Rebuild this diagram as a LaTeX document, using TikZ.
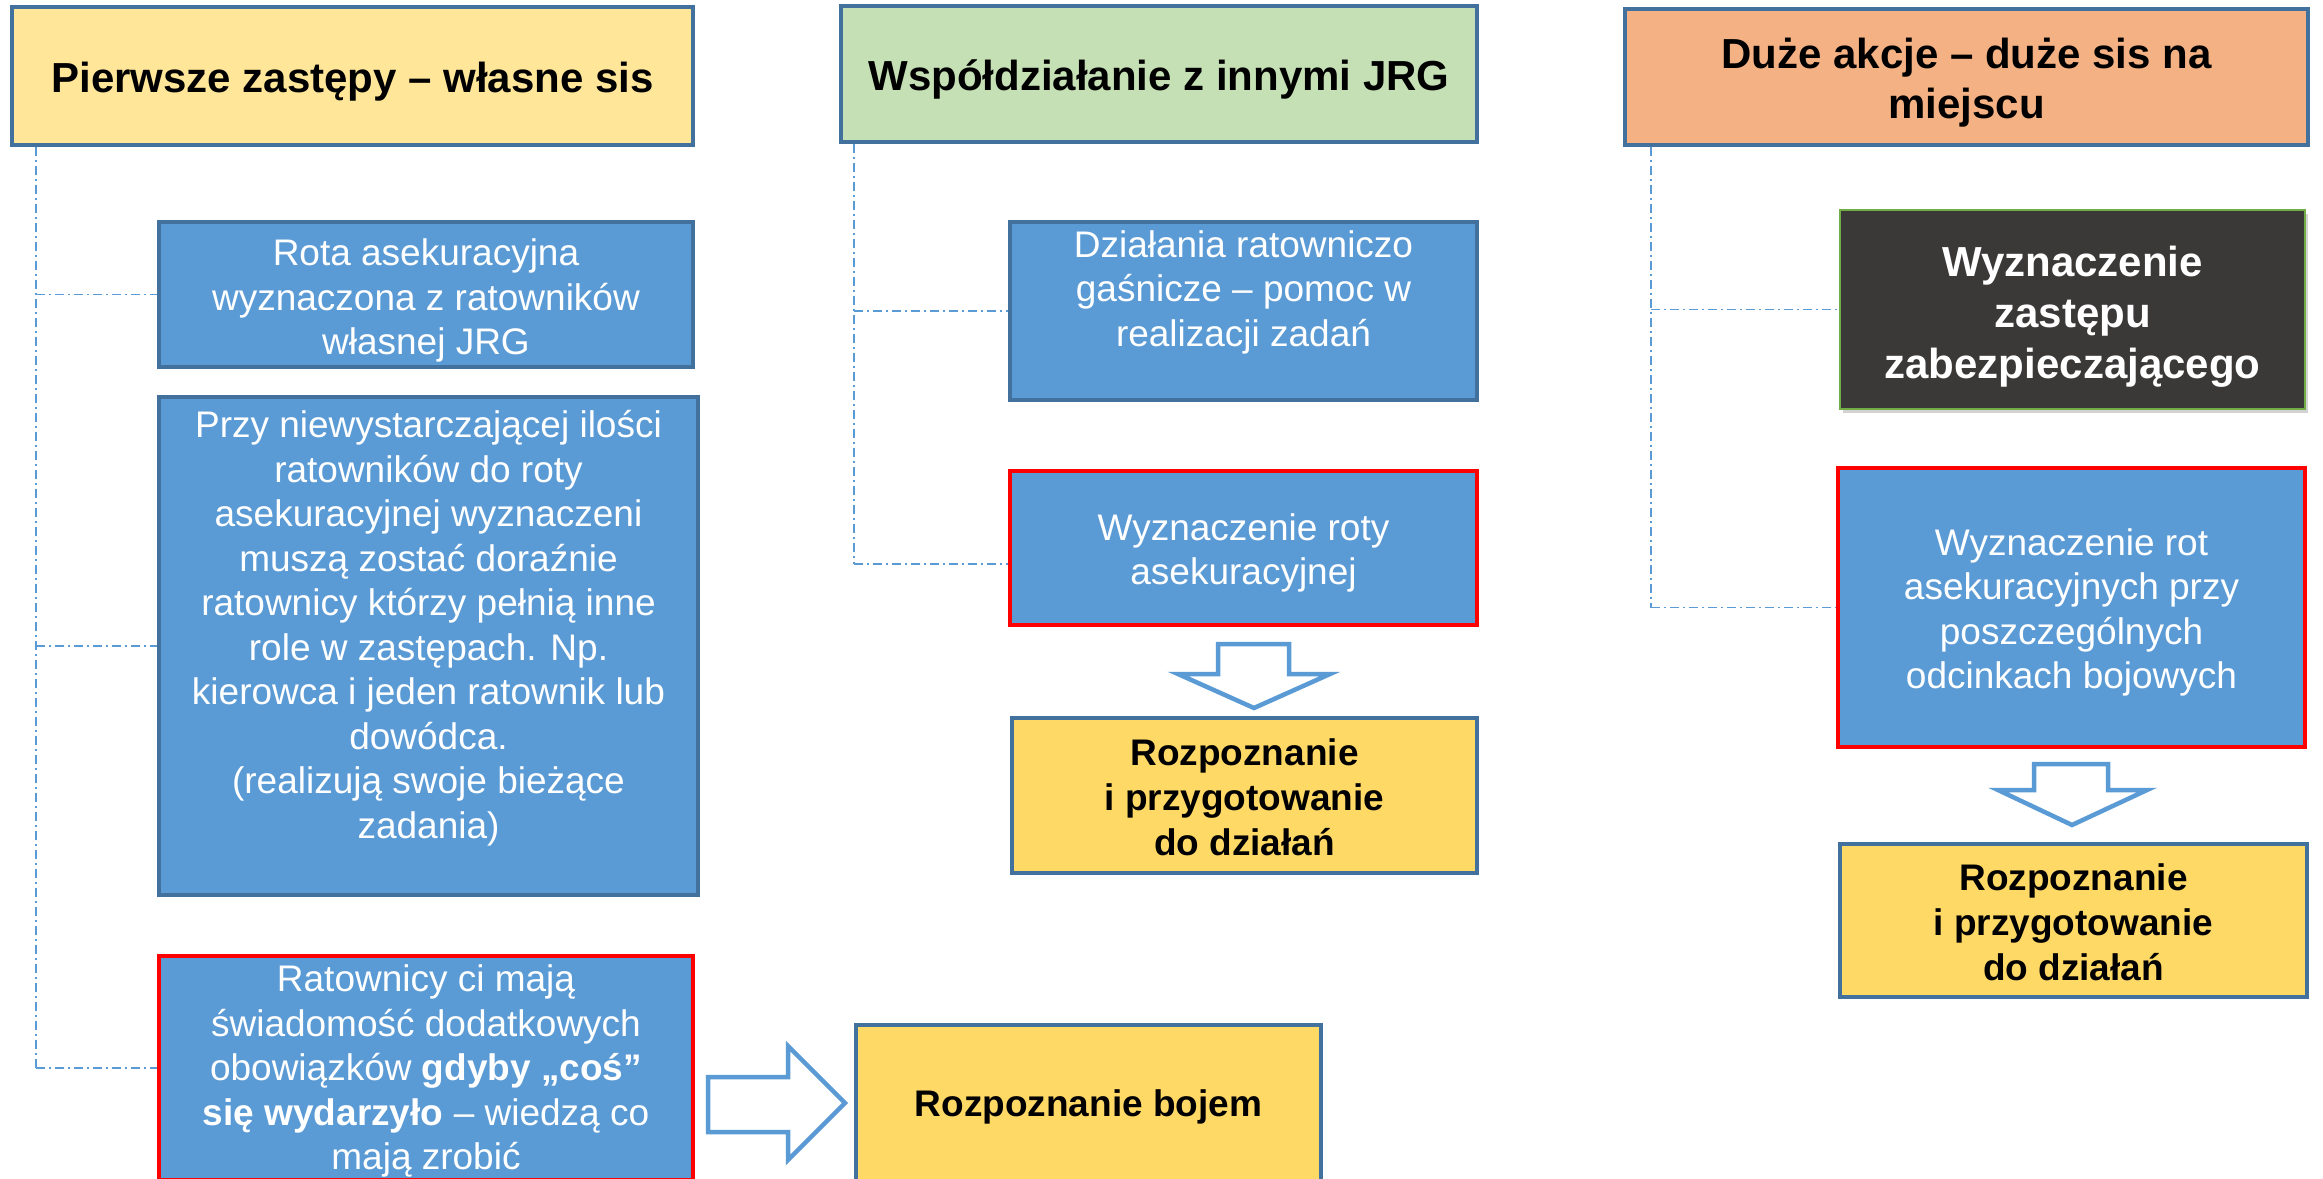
\documentclass[tikz,border=0pt]{standalone}
\usepackage{fontspec}
\setmainfont{Liberation Sans}
\usetikzlibrary{shadows,calc}
\definecolor{bfill}{HTML}{5B9BD5}
\definecolor{bdr}{HTML}{41719C}
\definecolor{rd}{HTML}{FF0000}
\definecolor{yl}{HTML}{FFD966}
\definecolor{hA}{HTML}{FFE699}
\definecolor{hB}{HTML}{C5E0B4}
\definecolor{hC}{HTML}{F4B183}
\definecolor{dk}{HTML}{3B3838}
\definecolor{gr}{HTML}{70AD47}
\tikzset{
  base/.style={inner sep=0pt, line width=4pt},
  hdr/.style={base, draw=bdr},
  bbox/.style={base, fill=bfill, draw=bdr},
  redbox/.style={bbox, draw=rd},
  ybox/.style={base, fill=yl, draw=bdr},
  htxt/.style={inner sep=0pt, align=center, font=\bfseries\fontsize{42}{50}\selectfont},
  wtxt/.style={inner sep=0pt, align=center, text=white, font=\fontsize{37}{44.5}\selectfont},
  ytxt/.style={inner sep=0pt, align=center, font=\bfseries\fontsize{37}{45}\selectfont},
  conn/.style={draw=bfill, line width=1.8pt, dash pattern=on 9pt off 4pt on 2pt off 4pt},
  barrow/.style={draw=bfill, fill=white, line width=4.5pt, line join=miter},
}
\begin{document}
\begin{tikzpicture}[x=1pt,y=-1pt]
\useasboundingbox (0,0) rectangle (2323,1178);
\clip (0,0) rectangle (2323,1178);
\fill[white] (0,0) rectangle (2323,1178);

% headers
\node[hdr, fill=hA, minimum width=681, minimum height=138] (h1) at (352.5,76) {};
\node[htxt] (h1t) at ($(h1.center)+(0,6)$) {Pierwsze zastępy – własne sis};
\node[hdr, fill=hB, minimum width=636, minimum height=136] (h2) at (1159,74) {};
\node[htxt] (h2t) at ($(h2.center)+(0,5)$) {Współdziałanie z innymi JRG};
\node[hdr, fill=hC, minimum width=683, minimum height=136] (h3) at (1966.5,77) {};
\node[htxt] (h3t) at ($(h3.center)+(0,6)$) {Duże akcje – duże sis na\\miejscu};

% left column
\node[bbox, minimum width=534, minimum height=145] (rota) at (426,294.5) {};
\node[wtxt] (rotat) at ($(rota.center)+(0,6)$) {Rota asekuracyjna\\wyznaczona z ratowników\\własnej JRG};
\node[bbox, minimum width=539, minimum height=498] (przy) at (428.5,646) {};
\node[wtxt] (przyt) at (428.5,628) {Przy niewystarczającej ilości\\ratowników do roty\\asekuracyjnej wyznaczeni\\muszą zostać doraźnie\\ratownicy którzy pełnią inne\\role w zastępach. Np.\\kierowca i jeden ratownik lub\\dowódca.\\(realizują swoje bieżące\\zadania)};
\node[redbox, minimum width=534, minimum height=224] (rat) at (426,1068) {};
\node[wtxt] (ratt) at ($(rat.center)+(0,3)$) {Ratownicy ci mają\\świadomość dodatkowych\\obowiązków \textbf{gdyby „coś”}\\\textbf{się wydarzyło} – wiedzą co\\mają zrobić};
\node[ybox, minimum width=465, minimum height=158] (boj) at (1088.5,1104) {};
\node[ytxt] (bojt) at ($(boj.center)+(0,3)$) {Rozpoznanie bojem};

% middle column
\node[bbox, minimum width=467, minimum height=178] (dz) at (1243.5,311) {};
\node[wtxt] (dzt) at (1243.5,292) {Działania ratowniczo\\gaśnicze – pomoc w\\realizacji zadań};
\node[redbox, minimum width=467, minimum height=154] (wr) at (1243.5,548) {};
\node[wtxt] (wrt) at ($(wr.center)+(0,5)$) {Wyznaczenie roty\\asekuracyjnej};
\node[ybox, minimum width=465, minimum height=155] (rz1) at (1244.5,795.5) {};
\node[ytxt] (rz1t) at ($(rz1.center)+(0,2)$) {Rozpoznanie\\i przygotowanie\\do działań};

% right column
\node[base, line width=2pt, fill=dk, draw=gr, minimum width=465, minimum height=199,
  drop shadow={shadow xshift=3pt, shadow yshift=-4pt, opacity=0.35}] (dark) at (2072.5,309.5) {};
\node[inner sep=0pt, align=center, text=white, font=\bfseries\fontsize{42}{51}\selectfont] (darkt) at ($(dark.center)+(0,7)$) {Wyznaczenie\\zastępu\\zabezpieczającego};
\node[redbox, minimum width=467, minimum height=279] (wrot) at (2071.5,607.5) {};
\node[wtxt] (wrott) at ($(wrot.center)+(0,5)$) {Wyznaczenie rot\\asekuracyjnych przy\\poszczególnych\\odcinkach bojowych};
\node[ybox, minimum width=467, minimum height=153] (rz2) at (2073.5,920.5) {};
\node[ytxt] (rz2t) at ($(rz2.center)+(0,2)$) {Rozpoznanie\\i przygotowanie\\do działań};

% connectors
\coordinate (L) at ($(h1.south west)+(26,0)$);
\draw[conn] (L) -- (L |- rat.west);
\draw[conn] (L |- rota.west) -- (rota.west);
\draw[conn] (L |- przy.west) -- (przy.west);
\draw[conn] (L |- rat.west) -- (rat.west);

\coordinate (M) at ($(h2.south west)+(15,0)$);
\coordinate (Mw) at ($(wr.south west)!0.4!(wr.north west)$);
\draw[conn] (M) -- (M |- Mw);
\draw[conn] (M |- dz.west) -- (dz.west);
\draw[conn] (M |- Mw) -- (Mw);

\coordinate (R) at ($(h3.south west)+(28,0)$);
\draw[conn] (R) -- (R |- wrot.west);
\draw[conn] (R |- dark.west) -- (dark.west);
\draw[conn] (R |- wrot.west) -- (wrot.west);

% block arrows
\draw[barrow] (1218,644) -- (1289,644) -- (1289,674) -- (1330,674) -- (1254,708) -- (1178,674) -- (1218,674) -- cycle;
\draw[barrow] (2034,764) -- (2108,764) -- (2108,790) -- (2147,790) -- (2072,825) -- (1998,790) -- (2034,790) -- cycle;
\draw[barrow] (708,1077) -- (788,1077) -- (788,1046) -- (845,1103) -- (788,1160) -- (788,1132) -- (708,1132) -- cycle;
\end{tikzpicture}
\end{document}
